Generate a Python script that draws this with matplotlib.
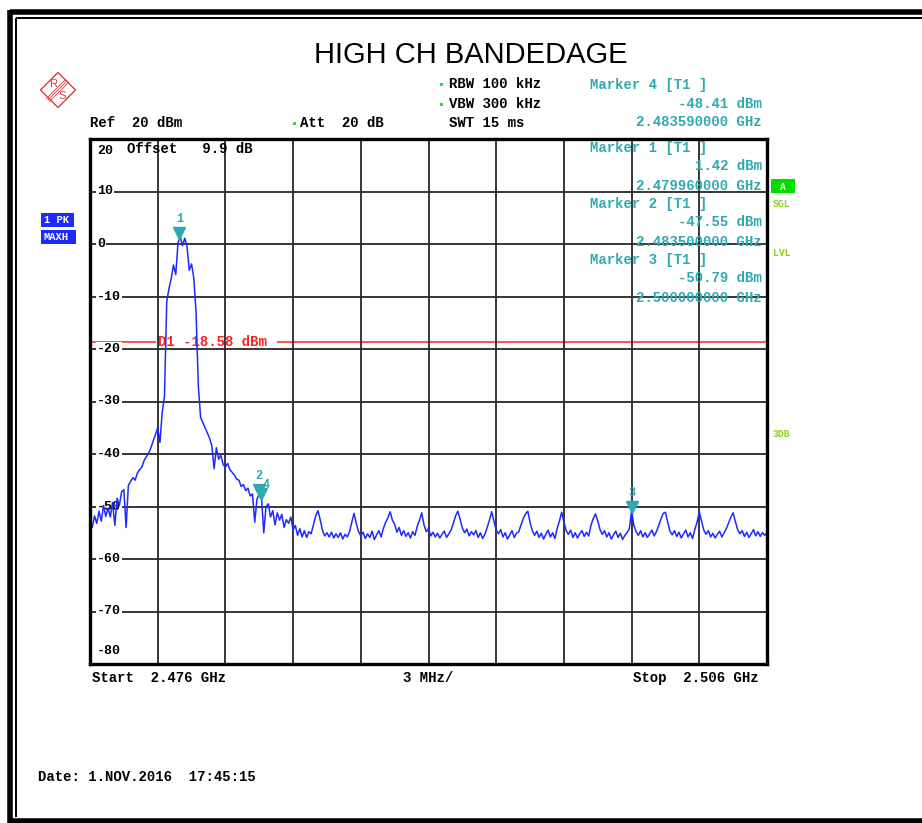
import matplotlib
matplotlib.use("Agg")
import matplotlib.pyplot as plt
import numpy as np
from matplotlib.lines import Line2D
from matplotlib.patches import Polygon, Rectangle
from matplotlib.transforms import blended_transform_factory, offset_copy

W, H = 922, 823

# sweep settings
START_GHZ = 2.476
STOP_GHZ = 2.506
REF_DBM = 20
BOTTOM_DBM = -80
D1_DBM = -18.58

# max-hold trace, 0.1 MHz per point
trace_dbm = [
    -52.6, -54.0, -51.8, -53.2, -50.9, -52.8, -49.8, -51.9, -50.3, -52.0,
    -49.2, -53.6, -48.4, -49.8, -47.2, -46.8, -54.0, -46.0, -45.2, -44.5,
    -45.0, -43.6, -43.0, -42.5, -41.2, -40.5, -39.8, -38.8, -37.5, -36.3,
    -35.0, -37.8, -32.0, -29.0, -11.0, -8.5, -6.5, -4.0, -5.8, 0.2,
    1.42, -0.3, 1.1, -0.5, -5.0, -3.8, -6.5, -13.0, -27.0, -33.0,
    -34.0, -35.0, -36.0, -37.0, -38.5, -42.8, -38.8, -41.0, -40.2, -42.0,
    -42.5, -41.8, -43.0, -43.5, -44.0, -44.8, -45.0, -46.2, -45.8, -47.0,
    -46.5, -48.0, -47.6, -53.0, -48.6, -47.55, -48.41, -55.0, -50.0, -49.5,
    -52.0, -50.8, -53.5, -51.2, -52.6, -51.5, -54.0, -52.5, -53.2, -52.0,
    -54.5, -53.6, -55.5, -54.2, -55.8, -54.6, -55.9, -54.8, -55.2, -53.5,
    -51.8, -50.8, -52.5, -54.5, -55.6, -55.0, -55.8, -54.9, -56.0, -55.2,
    -55.9, -55.0, -56.2, -55.3, -55.8, -54.8, -53.0, -51.3, -53.2, -54.8,
    -55.6, -54.9, -56.1, -55.2, -55.9, -54.7, -56.3, -55.4, -54.6, -55.8,
    -54.2, -53.0, -52.2, -51.0, -52.6, -53.4, -54.9, -54.0, -55.5, -54.6,
    -55.7, -55.0, -56.0, -54.8, -55.5, -53.8, -52.6, -51.2, -53.5, -54.8,
    -54.2, -55.6, -54.9, -55.8, -55.1, -56.0, -55.3, -54.7, -55.9, -55.2,
    -54.5, -53.2, -51.8, -50.9, -52.4, -54.1, -55.0, -54.3, -55.6, -54.8,
    -55.4, -54.6, -55.9, -55.0, -56.1, -55.3, -54.0, -52.6, -51.0, -52.8,
    -54.5, -55.2, -54.4, -55.8, -55.0, -56.2, -55.4, -54.6, -55.9, -55.1,
    -54.8, -53.5, -52.3, -51.4, -50.9, -53.0, -54.6, -55.5, -54.7, -55.9,
    -55.1, -56.2, -55.3, -54.5, -55.8, -55.0, -56.1, -54.2, -52.8, -51.1,
    -52.9, -54.6, -55.3, -54.5, -55.9, -55.0, -56.0, -55.2, -54.6, -55.7,
    -54.9, -55.6, -53.6, -52.3, -51.4, -52.7, -54.4, -55.3, -54.6, -55.8,
    -55.0, -56.2, -55.4, -54.7, -55.9, -55.1, -56.3, -55.5, -55.0, -54.2,
    -50.79, -53.6, -54.8, -55.5, -54.6, -55.8, -55.0, -55.9, -55.2, -54.5,
    -55.6, -54.8, -53.6, -52.4, -51.3, -51.1, -53.0, -54.7, -55.4, -54.6,
    -55.7, -54.9, -56.0, -55.2, -54.5, -55.8, -55.0, -56.1, -54.4, -53.0,
    -51.0, -52.8, -54.5, -55.3, -54.6, -55.8, -55.1, -56.0, -55.3, -54.7,
    -55.8, -55.0, -54.2, -53.1, -52.0, -51.2, -52.9, -54.4, -55.2, -54.6,
    -55.7, -54.9, -55.9, -55.2, -54.4, -55.6, -54.8, -55.7, -55.0, -55.5,
    -54.9,
]

marker_ids = ["1", "2", "3", "4"]
marker_ghz = [2.479960, 2.483500, 2.500000, 2.483590]
marker_dbm = [1.42, -47.55, -50.79, -48.41]

# readout panel: marker order and top row (px)
panel_order = ["4", "1", "2", "3"]
panel_top = [85, 148, 204, 260]

MONO = "Liberation Mono"
TEAL = "#2fa9b1"
BLUE = "#1d2bff"
RED = "#ff2222"
LIME = "#8fd21c"
GREEN = "#22dd44"


def fx(x):
    return x / W


def fy(y):
    return 1 - y / H


def ftext(x, y, s, **kw):
    kw.setdefault("family", MONO)
    kw.setdefault("weight", "bold")
    kw.setdefault("fontsize", 10.1)
    kw.setdefault("va", "center")
    return fig.text(fx(x), fy(y), s, **kw)


def fline(xs, ys, **kw):
    fig.add_artist(Line2D([fx(x) for x in xs], [fy(y) for y in ys],
                          transform=fig.transFigure, **kw))


def frect(x0, y0, x1, y1, **kw):
    fig.add_artist(Rectangle((fx(x0), fy(y1)), (x1 - x0) / W, (y1 - y0) / H,
                             transform=fig.transFigure, **kw))


fig = plt.figure(figsize=(W / 100, H / 100), dpi=100)
fig.patch.set_facecolor("white")

# page frame (double line)
fline([10, W + 5], [12.3, 12.3], color="black", lw=4.0, solid_capstyle="butt")
fline([10, 10], [10, H + 5], color="black", lw=4.0, solid_capstyle="butt")
fline([10, W + 5], [820.5, 820.5], color="black", lw=4.0, solid_capstyle="butt")
fline([15.5, W + 5], [17.6, 17.6], color="black", lw=1.4, solid_capstyle="butt")
fline([15.5, 15.5], [17.6, 817], color="black", lw=1.4, solid_capstyle="butt")

ftext(471, 55, "HIGH CH BANDEDAGE", family="Liberation Sans",
      weight="normal", fontsize=21, ha="center")

# R&S logo
cx, cy, r = 58, 90, 17.5
logo_red = "#e0383c"
fig.add_artist(Polygon([(fx(cx), fy(cy - r)), (fx(cx + r), fy(cy)),
                        (fx(cx), fy(cy + r)), (fx(cx - r), fy(cy))],
                       closed=True, fill=False, edgecolor=logo_red, lw=1.0,
                       transform=fig.transFigure))
for d in (-1.5, 0, 1.5):
    fline([cx - 10 + d, cx + 9 + d], [cy + 10 + d, cy - 9 + d],
          color=logo_red, lw=0.6)
ftext(cx - 5, cy - 6, "R", family="Liberation Sans", weight="normal",
      fontsize=8, color=logo_red, ha="center")
ftext(cx + 4, cy + 6, "S", family="Liberation Sans", weight="normal",
      fontsize=8, color=logo_red, ha="center")

# analyzer settings
for x, y in [(441, 84), (441, 104), (294, 123)]:
    frect(x - 1.5, y - 1.5, x + 1.5, y + 1.5, facecolor=GREEN, edgecolor="none")
ftext(449, 84, "RBW 100 kHz")
ftext(449, 104, "VBW 300 kHz")
ftext(449, 123, "SWT 15 ms")
ftext(90, 123, "Ref  20 dBm")
ftext(300, 123, "Att  20 dB")

# trace mode boxes on the left
frect(41, 213, 74, 227, facecolor=BLUE, edgecolor="none")
ftext(44, 220, "1 PK", fontsize=7.5, color="white")
frect(41, 230, 76, 244, facecolor=BLUE, edgecolor="none")
ftext(43, 237, "MAXH", fontsize=7.5, color="white")

# status flags on the right
frect(771, 179, 795, 193, facecolor="#00dd00", edgecolor="none")
ftext(783, 186.5, "A", fontsize=7, color="white", ha="center")
ftext(773, 204, "SGL", fontsize=7, color=LIME)
ftext(773, 253, "LVL", fontsize=7, color=LIME)
ftext(773, 434, "3DB", fontsize=7, color=LIME)

# bottom annotations
ftext(92, 678, "Start  2.476 GHz")
ftext(403, 678, "3 MHz/")
ftext(759, 678, "Stop  2.506 GHz", ha="right")
ftext(38, 777, "Date: 1.NOV.2016  17:45:15")

# spectrum display
ax = fig.add_axes([fx(90), fy(664), 677 / W, 525 / H])
ax.set_xlim(START_GHZ, STOP_GHZ)
ax.set_ylim(BOTTOM_DBM, REF_DBM)
ax.set_xticks(np.linspace(START_GHZ, STOP_GHZ, 11))
ax.set_yticks(np.arange(BOTTOM_DBM, REF_DBM + 1, 10))
ax.tick_params(length=0, labelleft=False, labelbottom=False)
ax.grid(True, color="#262626", lw=1.3)
ax.set_axisbelow("line")
for sp in ax.spines.values():
    sp.set_linewidth(2.4)
    sp.set_zorder(5)

freq = np.linspace(START_GHZ, STOP_GHZ, len(trace_dbm))
ax.plot(freq, trace_dbm, color=BLUE, lw=1.1, zorder=2)

# display line D1
ax.axhline(D1_DBM, color=RED, lw=1.1, zorder=1)
ytrans = blended_transform_factory(ax.transAxes, ax.transData)
ax.text(68 / 677, D1_DBM, f"D1 {D1_DBM:.2f} dBm ", transform=ytrans,
        family=MONO, weight="bold", fontsize=10.1, color=RED, va="center",
        bbox=dict(facecolor="white", edgecolor="none", pad=1.5), zorder=1.2)

# level labels inside the graticule
for v in ax.get_yticks():
    v = int(v)
    if v == REF_DBM:
        tr, va = offset_copy(ytrans, fig=fig, y=-6, units="dots"), "top"
    elif v == BOTTOM_DBM:
        tr, va = offset_copy(ytrans, fig=fig, y=7, units="dots"), "bottom"
    else:
        tr, va = ytrans, "center"
    ax.text(7 / 677, v, f"{v}", transform=tr, family=MONO, weight="bold",
            fontsize=9.5, va=va, zorder=1.8,
            bbox=dict(facecolor="white", edgecolor="none", pad=0.8))
ax.text(37 / 677, REF_DBM, "Offset   9.9 dB",
        transform=offset_copy(ytrans, fig=fig, y=-10, units="dots"),
        family=MONO, weight="bold", fontsize=10.1, va="center", zorder=1.8)

# markers; 2 and 4 sit almost on top of each other
for mid, g, lvl in zip(marker_ids, marker_ghz, marker_dbm):
    ax.plot(g, lvl, marker="v", ms=8, color=TEAL, mec=TEAL, zorder=4,
            transform=offset_copy(ax.transData, fig=fig, y=4, units="dots"))
    dx, dy = (5, 13) if mid == "4" else (-1, 18)
    if mid in ("1", "3"):
        dx = 0
    ax.text(g, lvl, mid, family=MONO, weight="bold", fontsize=8.5,
            color=TEAL, ha="center", va="center", zorder=4,
            transform=offset_copy(ax.transData, fig=fig, x=dx, y=dy, units="dots"))

# marker readouts
for mid, top in zip(panel_order, panel_top):
    k = marker_ids.index(mid)
    ftext(590, top, f"Marker {mid} [T1 ]", color=TEAL, zorder=3)
    ftext(762, top + 18.5, f"{marker_dbm[k]:.2f} dBm", color=TEAL, ha="right", zorder=3)
    ftext(762, top + 37.5, f"{marker_ghz[k]:.9f} GHz", color=TEAL, ha="right", zorder=3)

fig.savefig("out.png", dpi=100)
